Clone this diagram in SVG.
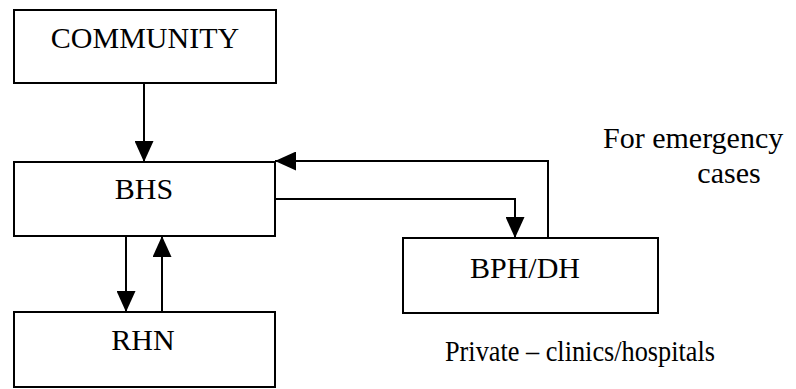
<svg xmlns="http://www.w3.org/2000/svg" width="796" height="389" viewBox="0 0 796 389">
  <style>
    .box { fill: #fff; stroke: #000; stroke-width: 2; }
    .lbl { font-size: 30px; fill: #000; }
    .link { fill: none; stroke: #000; stroke-width: 2; }
  </style>
  <defs>
    <marker id="head" markerWidth="21" markerHeight="19" refX="21" refY="9.5" viewBox="0 0 21 19" orient="auto" markerUnits="userSpaceOnUse">
      <path d="M0,0 L21,9.5 L0,19 Z" fill="#000"/>
    </marker>
  </defs>
  <rect width="796" height="389" fill="#fff"/>

  <g font-family="'Liberation Serif', 'Times New Roman', serif">
    <g id="community">
      <rect class="box" x="14" y="10" width="262" height="73"/>
      <text class="lbl" x="145" y="48" text-anchor="middle">COMMUNITY</text>
    </g>

    <g id="bhs">
      <rect class="box" x="14" y="162" width="261" height="74"/>
      <text class="lbl" x="144" y="199" text-anchor="middle">BHS</text>
    </g>

    <g id="rhn">
      <rect class="box" x="14" y="312" width="261" height="75"/>
      <text class="lbl" x="143" y="350" text-anchor="middle">RHN</text>
    </g>

    <g id="bph-dh">
      <rect class="box" x="403" y="238" width="255" height="75"/>
      <text class="lbl" x="525" y="278" text-anchor="middle">BPH/DH</text>
    </g>

    <g id="notes">
      <text class="lbl" x="603" y="148">For emergency</text>
      <text class="lbl" x="729" y="183" text-anchor="middle">cases</text>
      <text class="lbl" x="445" y="361" textLength="270" lengthAdjust="spacingAndGlyphs">Private – clinics/hospitals</text>
    </g>
  </g>

  <g id="connectors">
    <line class="link" x1="144" y1="83" x2="144" y2="162" marker-end="url(#head)"/>
    <line class="link" x1="126" y1="236" x2="126" y2="312" marker-end="url(#head)"/>
    <line class="link" x1="162" y1="312" x2="162" y2="236" marker-end="url(#head)"/>
    <polyline class="link" points="548,238 548,161 275,161" marker-end="url(#head)"/>
    <polyline class="link" points="275,199 515,199 515,238" marker-end="url(#head)"/>
  </g>
</svg>
